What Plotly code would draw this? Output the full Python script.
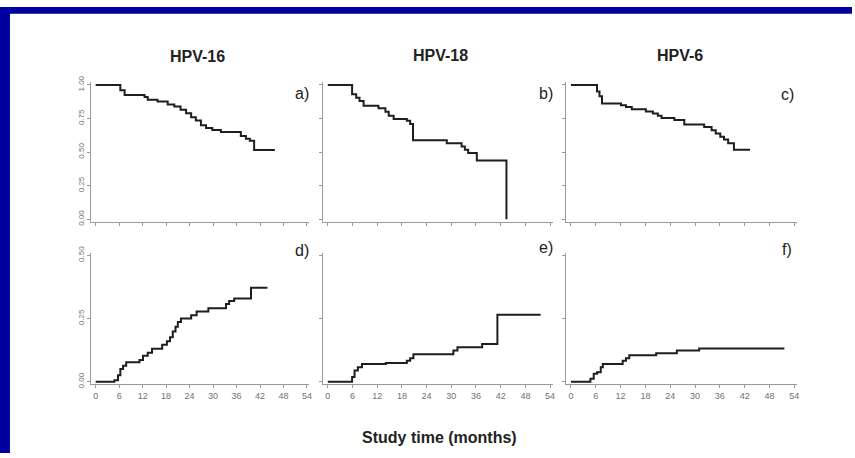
import plotly.graph_objects as go

W, H = 855, 458

# ---- data (months, proportion) ----
t_a = [0, 6.3, 7.4, 12.5, 13.3, 15.8, 18.4, 20.1, 21.7, 23.1, 24.4, 25.6, 26.9, 28.2, 29.8, 32.0, 37.1, 38.4, 39.4, 40.5, 45.8]
v_a = [1.00, 0.96, 0.925, 0.91, 0.89, 0.876, 0.855, 0.84, 0.815, 0.79, 0.76, 0.735, 0.70, 0.68, 0.665, 0.65, 0.62, 0.60, 0.585, 0.515, 0.515]

t_b = [0, 5.9, 6.9, 7.7, 8.7, 12.3, 14.0, 14.8, 16.0, 19.2, 20.0, 20.7, 28.9, 32.5, 33.3, 34.1, 36.2, 43.4]
v_b = [1.00, 0.93, 0.905, 0.88, 0.845, 0.826, 0.80, 0.77, 0.746, 0.734, 0.71, 0.589, 0.565, 0.541, 0.517, 0.493, 0.437, 0.0]

t_c = [0, 6.3, 6.9, 7.5, 12.1, 13.3, 14.7, 18.1, 19.8, 21.0, 21.9, 25.0, 27.4, 32.2, 34.0, 35.0, 36.1, 37.0, 38.0, 39.4, 43.3]
v_c = [1.00, 0.951, 0.915, 0.862, 0.848, 0.836, 0.819, 0.802, 0.788, 0.770, 0.754, 0.739, 0.705, 0.686, 0.662, 0.638, 0.614, 0.594, 0.565, 0.517, 0.517]

t_d = [0, 4.8, 5.7, 6.3, 7.0, 7.8, 11.2, 12.1, 13.3, 14.4, 17.0, 18.2, 19.0, 19.7, 20.4, 21.0, 21.8, 24.4, 25.8, 28.8, 33.3, 34.1, 35.4, 39.7, 43.9]
v_d = [0.0, 0.006, 0.026, 0.051, 0.064, 0.077, 0.086, 0.103, 0.115, 0.131, 0.147, 0.160, 0.176, 0.199, 0.218, 0.237, 0.25, 0.263, 0.278, 0.291, 0.308, 0.32, 0.33, 0.372, 0.372]

t_e = [0, 5.9, 6.5, 7.3, 8.3, 14.1, 19.2, 20.0, 20.8, 30.5, 31.5, 37.5, 41.2, 51.7]
v_e = [0.0, 0.019, 0.045, 0.058, 0.071, 0.074, 0.083, 0.093, 0.109, 0.124, 0.137, 0.15, 0.265, 0.265]

t_f = [0, 4.7, 5.5, 6.3, 7.2, 7.7, 12.5, 13.3, 14.1, 20.6, 25.6, 31.0, 51.6]
v_f = [0.0, 0.012, 0.032, 0.038, 0.058, 0.071, 0.083, 0.093, 0.105, 0.113, 0.124, 0.132, 0.132]

x_ticks = [0, 6, 12, 18, 24, 30, 36, 42, 48, 54]
y_ticks_top = [0.0, 0.25, 0.5, 0.75, 1.0]
y_ticks_bot = [0.0, 0.25, 0.5]
col_titles = ["HPV-16", "HPV-18", "HPV-6"]
panel_tags = ["a)", "b)", "c)", "d)", "e)", "f)"]
x_title = "Study time (months)"

series = [(t_a, v_a), (t_b, v_b), (t_c, v_c), (t_d, v_d), (t_e, v_e), (t_f, v_f)]

# ---- layout geometry (pixels) ----
col_px = [(91.3, 310.4), (324.0, 554.5), (568.0, 799.6)]
row_px = [(77, 221), (253, 387)]
tag_pos = [(303, 89), (548, 89), (790, 90), (303, 250), (548, 247), (790, 249)]
title_pos = [(198, 51), (442, 50), (682, 50)]

FONT = "Liberation Sans, Arial, sans-serif"
AX = "#9a9a9a"
TXT = "#707070"

fig = go.Figure()
layout = dict(
    width=W, height=H, margin=dict(l=0, r=0, t=0, b=0),
    paper_bgcolor="white", plot_bgcolor="white", showlegend=False,
    font=dict(family=FONT),
)

for i, (t, v) in enumerate(series):
    r, c = divmod(i, 3)
    n = i + 1
    xa = "xaxis" if n == 1 else f"xaxis{n}"
    ya = "yaxis" if n == 1 else f"yaxis{n}"
    fig.add_trace(go.Scatter(
        x=t, y=v, mode="lines", line=dict(shape="hv", color="#1e1e1e", width=2),
        xaxis="x" if n == 1 else f"x{n}", yaxis="y" if n == 1 else f"y{n}",
        hoverinfo="skip",
    ))
    x0, x1 = col_px[c]
    y0, y1 = row_px[r]
    layout[xa] = dict(
        domain=[x0 / W, x1 / W], range=[-1.2, 54.6],
        anchor="y" if n == 1 else f"y{n}",
        tickvals=x_ticks, showticklabels=(r == 1),
        showline=True, linecolor=AX, linewidth=1,
        ticks="outside", ticklen=3, tickcolor=AX, tickwidth=1,
        showgrid=False, zeroline=False,
        tickfont=dict(size=9, color=TXT, family=FONT),
    )
    yt = y_ticks_top if r == 0 else y_ticks_bot
    layout[ya] = dict(
        domain=[1 - y1 / H, 1 - y0 / H],
        range=[-0.022, 1.022] if r == 0 else [-0.008, 0.508],
        anchor="x" if n == 1 else f"x{n}",
        tickvals=yt, ticktext=[f"{y:.2f}" for y in yt],
        showticklabels=(c == 0), tickangle=-90,
        showline=True, linecolor=AX, linewidth=1,
        ticks="outside", ticklen=3, tickcolor=AX, tickwidth=1,
        showgrid=False, zeroline=False,
        tickfont=dict(size=8, color=TXT, family=FONT),
    )

annotations = []
for (px, py), txt in zip(title_pos, col_titles):
    annotations.append(dict(x=px / W, y=1 - py / H, xref="paper", yref="paper",
                            xanchor="center", yanchor="middle",
                            text=f"<b>{txt}</b>", showarrow=False,
                            font=dict(size=16, color="#222222", family=FONT)))
for (px, py), txt in zip(tag_pos, panel_tags):
    annotations.append(dict(x=px / W, y=1 - py / H, xref="paper", yref="paper",
                            xanchor="center", yanchor="middle",
                            text=txt, showarrow=False,
                            font=dict(size=16, color="#222222", family=FONT)))
annotations.append(dict(x=441 / W, y=1 - 442 / H, xref="paper", yref="paper",
                        xanchor="center", yanchor="middle",
                        text=f"<b>{x_title}</b>", showarrow=False,
                        font=dict(size=16, color="#222222", family=FONT)))
layout["annotations"] = annotations

layout["shapes"] = [
    dict(type="rect", xref="paper", yref="paper", x0=0, x1=10 / W, y0=0, y1=1,
         fillcolor="#0000a0", line=dict(width=0), layer="below"),
    dict(type="rect", xref="paper", yref="paper", x0=0, x1=1, y0=1 - 7 / H, y1=1,
         fillcolor="#0000a0", line=dict(width=0), layer="below"),
]

fig.update_layout(**layout)
fig.write_html("out.html")
